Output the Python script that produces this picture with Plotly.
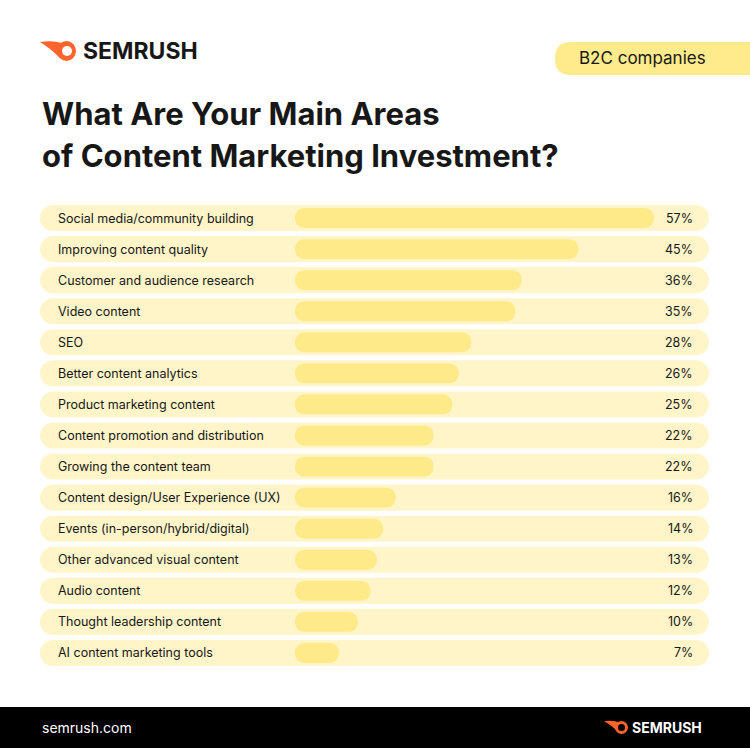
import plotly.graph_objects as go

W, H = 750, 748

categories = ["Social media/community building", "Improving content quality",
              "Customer and audience research", "Video content", "SEO",
              "Better content analytics", "Product marketing content",
              "Content promotion and distribution", "Growing the content team",
              "Content design/User Experience (UX)", "Events (in-person/hybrid/digital)",
              "Other advanced visual content", "Audio content",
              "Thought leadership content", "AI content marketing tools"]
values = [57, 45, 36, 35, 28, 26, 25, 22, 22, 16, 14, 13, 12, 10, 7]
value_labels = [f"{v}%" for v in values]

FONT = "Inter, Roboto, sans-serif"
DARK = "#171717"
ORANGE = "#FF642D"

# bar origin at x=295px, 57% ends at 654px
ORIGIN = 295
SCALE = (654 - ORIGIN) / 57


def px(x):
    return x / W


def py(y):
    return 1 - y / H


def rrect(x0, y0, x1, y1, r):
    pts = [
        f"M {px(x0 + r)},{py(y0)}", f"L {px(x1 - r)},{py(y0)}",
        f"Q {px(x1)},{py(y0)} {px(x1)},{py(y0 + r)}", f"L {px(x1)},{py(y1 - r)}",
        f"Q {px(x1)},{py(y1)} {px(x1 - r)},{py(y1)}", f"L {px(x0 + r)},{py(y1)}",
        f"Q {px(x0)},{py(y1)} {px(x0)},{py(y1 - r)}", f"L {px(x0)},{py(y0 + r)}",
        f"Q {px(x0)},{py(y0)} {px(x0 + r)},{py(y0)}", "Z"]
    return " ".join(pts)


pill_start = (40 - ORIGIN) / SCALE
pill_len = (709 - 40) / SCALE

fig = go.Figure()
fig.add_trace(go.Bar(y=categories, x=[pill_len] * len(categories),
                     base=[pill_start] * len(categories), orientation="h", width=0.84,
                     marker=dict(color="#FFF5C9", cornerradius=13, line_width=0),
                     hoverinfo="skip", showlegend=False))
fig.add_trace(go.Bar(y=categories, x=values, base=[0.001] * len(values),
                     orientation="h", width=0.64,
                     marker=dict(color="#FFEA8A", cornerradius=10, line_width=0),
                     showlegend=False))

annotations = []
for c, lab in zip(categories, value_labels):
    annotations.append(dict(x=px(56), y=c, xref="paper", yref="y", text=c,
                            xanchor="left", showarrow=False,
                            font=dict(family=FONT, size=12.5, color=DARK)))
    annotations.append(dict(x=px(695), y=c, xref="paper", yref="y", text=lab,
                            xanchor="right", showarrow=False,
                            font=dict(family=FONT, size=12.5, color=DARK)))

annotations += [
    dict(x=px(40), y=py(114), xref="paper", yref="paper", xanchor="left", yanchor="middle",
         text="<b>What Are Your Main Areas</b>", showarrow=False,
         font=dict(family=FONT, size=31, color=DARK)),
    dict(x=px(40), y=py(156), xref="paper", yref="paper", xanchor="left", yanchor="middle",
         text="<b>of Content Marketing Investment?</b>", showarrow=False,
         font=dict(family=FONT, size=31, color=DARK)),
    dict(x=px(81), y=py(51), xref="paper", yref="paper", xanchor="left", yanchor="middle",
         text="<b>SEMRUSH</b>", showarrow=False,
         font=dict(family=FONT, size=23, color=DARK)),
    dict(x=px(642), y=py(58), xref="paper", yref="paper", xanchor="center", yanchor="middle",
         text="B2C companies", showarrow=False,
         font=dict(family=FONT, size=17, color=DARK)),
    dict(x=px(40), y=py(727), xref="paper", yref="paper", xanchor="left", yanchor="middle",
         text="semrush.com", showarrow=False,
         font=dict(family=FONT, size=14, color="white")),
    dict(x=px(630), y=py(727), xref="paper", yref="paper", xanchor="left", yanchor="middle",
         text="<b>SEMRUSH</b>", showarrow=False,
         font=dict(family=FONT, size=14, color="white")),
]

shapes = [
    dict(type="path", xref="paper", yref="paper", path=rrect(555, 42, 770, 75, 16),
         fillcolor="#FFEB8C", line_width=0, layer="below"),
    dict(type="rect", xref="paper", yref="paper", x0=0, x1=1, y0=0, y1=py(707),
         fillcolor="black", line_width=0),
    dict(type="circle", xref="paper", yref="paper", x0=px(57), x1=px(76), y0=py(61), y1=py(41),
         fillcolor=ORANGE, line_width=0),
    dict(type="path", xref="paper", yref="paper",
         path=f"M {px(40)},{py(42)} Q {px(52)},{py(40)} {px(62)},{py(43)} L {px(60)},{py(58)} Q {px(50)},{py(48)} {px(40)},{py(42)} Z",
         fillcolor=ORANGE, line_width=0),
    dict(type="circle", xref="paper", yref="paper", x0=px(62), x1=px(72), y0=py(56), y1=py(46),
         fillcolor="white", line_width=0),
    dict(type="circle", xref="paper", yref="paper", x0=px(615), x1=px(628), y0=py(734), y1=py(721),
         fillcolor=ORANGE, line_width=0),
    dict(type="path", xref="paper", yref="paper",
         path=f"M {px(604)},{py(721)} Q {px(612)},{py(720)} {px(618)},{py(722)} L {px(617)},{py(731)} Q {px(611)},{py(725)} {px(604)},{py(721)} Z",
         fillcolor=ORANGE, line_width=0),
    dict(type="circle", xref="paper", yref="paper", x0=px(618), x1=px(625), y0=py(731), y1=py(724),
         fillcolor="black", line_width=0),
]

fig.update_layout(
    width=W, height=H, margin=dict(l=0, r=0, t=0, b=0),
    paper_bgcolor="white", plot_bgcolor="rgba(0,0,0,0)",
    barmode="overlay",
    xaxis=dict(domain=[0, 1], range=[-ORIGIN / SCALE, (W - ORIGIN) / SCALE],
               visible=False, fixedrange=True),
    yaxis=dict(domain=[py(668.5), py(202.5)], autorange="reversed", visible=False,
               fixedrange=True),
    annotations=annotations, shapes=shapes,
)

fig.write_html("out.html", config={"displayModeBar": False},
               post_script="document.body.style.margin='0';")
